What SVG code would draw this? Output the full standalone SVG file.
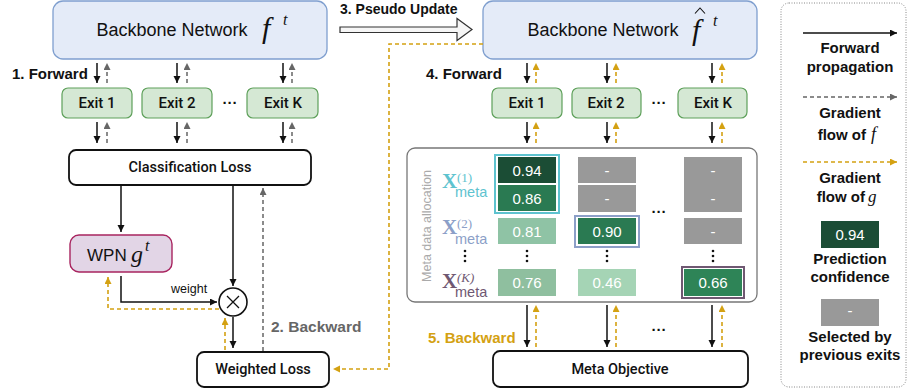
<svg xmlns="http://www.w3.org/2000/svg" width="908" height="392" viewBox="0 0 908 392">
<defs>
<marker id="ab" markerUnits="userSpaceOnUse" markerWidth="8" markerHeight="8" refX="7" refY="3.5" orient="auto"><path d="M0,0 L7,3.5 L0,7 z" fill="#111"/></marker>
<marker id="ag" markerUnits="userSpaceOnUse" markerWidth="8" markerHeight="8" refX="7" refY="3.5" orient="auto"><path d="M0,0 L7,3.5 L0,7 z" fill="#666"/></marker>
<marker id="ay" markerUnits="userSpaceOnUse" markerWidth="8" markerHeight="8" refX="7" refY="3.5" orient="auto"><path d="M0,0 L7,3.5 L0,7 z" fill="#d4a112"/></marker>
</defs>
<style>
text{font-family:"Liberation Sans",Arial,Helvetica,sans-serif;}
.bb{fill:#e4ebf8;stroke:#7f9fcf;stroke-width:1.3;}
.ex{fill:#d5e8d4;stroke:#5ea05a;stroke-width:1.2;}
.wb{fill:#fff;stroke:#111;stroke-width:1.8;}
.t18{font-size:18px;fill:#111;text-anchor:middle;}
.t14{font-family:Roboto,"Liberation Sans",Arial,sans-serif;font-weight:500;fill:#111;text-anchor:middle;}
.b15{font-size:15px;font-weight:bold;}
.lg{font-size:15px;font-weight:bold;fill:#111;}
.cv{font-size:15px;fill:#fff;text-anchor:middle;}
.bl{stroke:#111;stroke-width:1.5;fill:none;}
.gd{stroke:#666;stroke-width:1.5;fill:none;stroke-dasharray:4,3;}
.yd{stroke:#d4a112;stroke-width:1.6;fill:none;stroke-dasharray:4,3;}
.mi{font-family:"Liberation Serif","Times New Roman",serif;font-style:italic;fill:#111;}
.xs{font-family:"Liberation Serif","Times New Roman",serif;}
.dots{font-size:15px;font-weight:bold;fill:#111;text-anchor:middle;}
</style>

<!-- Left side -->
<g id="backbone1">
<rect class="bb" x="53" y="1" width="274" height="58" rx="10"/>
<text class="t18" x="172" y="36">Backbone Network</text>
<text class="mi" x="262" y="38" font-size="30">f</text>
<text class="mi" x="283" y="25" font-size="16">t</text>
</g>
<g id="exit1a"><rect class="ex" x="62" y="88" width="70" height="30" rx="6"/><text class="t14" x="97" y="108" font-size="15">Exit 1</text></g>
<g id="exit2a"><rect class="ex" x="142" y="88" width="70" height="30" rx="6"/><text class="t14" x="177" y="108" font-size="15">Exit 2</text></g>
<g id="exitKa"><rect class="ex" x="247" y="88" width="71" height="30" rx="6"/><text class="t14" x="283" y="108" font-size="15">Exit K</text></g>
<text class="dots" x="230" y="108">···</text>
<g id="closs"><rect class="wb" x="69" y="150" width="242" height="35" rx="7"/><text class="t14" x="190" y="172" font-size="14.5">Classification Loss</text></g>
<g id="wpn"><rect x="70" y="235" width="102" height="37" rx="9" fill="#e2d5e6" stroke="#a8245f" stroke-width="1.4"/>
<text x="87" y="261" font-size="17" fill="#111">WPN</text>
<text class="mi" x="131" y="262" font-size="24">g</text>
<text class="mi" x="145" y="251" font-size="16">t</text></g>
<g id="mult"><circle cx="233" cy="302" r="14" fill="#fff" stroke="#111" stroke-width="1.6"/>
<path d="M227,296 L239,308 M239,296 L227,308" stroke="#111" stroke-width="1.3"/></g>
<g id="wloss"><rect class="wb" x="197" y="352" width="132" height="35" rx="7"/><text class="t14" x="263" y="374" font-size="14.5">Weighted Loss</text></g>

<text class="b15" x="12" y="79" style="fill:#111">1. Forward</text>
<text class="b15" x="271" y="332" style="fill:#666;font-size:15.5px">2. Backward</text>
<text x="171" y="293" font-size="12.5" fill="#111">weight</text>
<text class="b15" x="340" y="14" style="fill:#111;font-size:14px">3. Pseudo Update</text>

<!-- Right side -->
<g id="backbone2">
<rect class="bb" x="483" y="1" width="274" height="58" rx="10"/>
<text class="t18" x="603" y="36">Backbone Network</text>
<text class="mi" x="692" y="40" font-size="30">f</text>
<path d="M695,13.5 L700,8 L705,13.5" fill="none" stroke="#111" stroke-width="1.1"/>
<text class="mi" x="713" y="26" font-size="16">t</text>
</g>
<g id="exit1b"><rect class="ex" x="492" y="88" width="70" height="30" rx="6"/><text class="t14" x="527" y="108" font-size="15">Exit 1</text></g>
<g id="exit2b"><rect class="ex" x="572" y="88" width="69" height="30" rx="6"/><text class="t14" x="606" y="108" font-size="15">Exit 2</text></g>
<g id="exitKb"><rect class="ex" x="678" y="88" width="69" height="30" rx="6"/><text class="t14" x="713" y="108" font-size="15">Exit K</text></g>
<text class="dots" x="659" y="108">···</text>
<text class="b15" x="426" y="79" style="fill:#111">4. Forward</text>

<g id="metabox">
<rect x="407" y="148" width="350" height="154" rx="8" fill="#fff" stroke="#777" stroke-width="1.3"/>
<text x="431" y="226" font-size="12.5" fill="#aaa" text-anchor="middle" transform="rotate(-90 431 226)">Meta data allocation</text>
<g fill="#5ec3cf"><text class="xs" x="442" y="188" font-size="21" font-weight="bold">X</text><text class="xs" x="457" y="182" font-size="13">(1)</text><text x="455" y="197" font-size="14.5">meta</text></g>
<g fill="#8c9fc8"><text class="xs" x="442" y="234" font-size="21" font-weight="bold">X</text><text class="xs" x="457" y="228" font-size="13">(2)</text><text x="455" y="244" font-size="14.5">meta</text></g>
<g fill="#6f5872"><text class="xs" x="442" y="288" font-size="21" font-weight="bold">X</text><text class="xs" x="457" y="282" font-size="13" font-style="italic">(K)</text><text x="455" y="297" font-size="14.5">meta</text></g>
<rect x="495" y="155" width="64" height="58" fill="#fff" stroke="#5ec3cf" stroke-width="2"/>
<rect x="575" y="216" width="64" height="31" fill="#fff" stroke="#8c9fc8" stroke-width="2"/>
<rect x="682" y="267" width="62" height="31" fill="#fff" stroke="#6f5872" stroke-width="2"/>
<rect x="498" y="157" width="58" height="26" fill="#1b4d35"/><text class="cv" x="527" y="176">0.94</text>
<rect x="498" y="185" width="58" height="26" fill="#2a7a52"/><text class="cv" x="527" y="204">0.86</text>
<rect x="498" y="218" width="58" height="26" fill="#8fc3a5"/><text class="cv" x="527" y="237">0.81</text>
<rect x="498" y="269" width="58" height="27" fill="#8fbf9f"/><text class="cv" x="527" y="288">0.76</text>
<rect x="578" y="157" width="58" height="26" fill="#999"/><text class="cv" x="607" y="176">-</text>
<rect x="578" y="185" width="58" height="27" fill="#999"/><text class="cv" x="607" y="204">-</text>
<rect x="578" y="218" width="58" height="26" fill="#2a7a52"/><text class="cv" x="607" y="237">0.90</text>
<rect x="578" y="269" width="58" height="27" fill="#a5d4b5"/><text class="cv" x="607" y="288">0.46</text>
<rect x="684" y="157" width="58" height="55" fill="#999"/><text class="cv" x="713" y="176">-</text><text class="cv" x="713" y="204">-</text>
<rect x="684" y="218" width="58" height="26" fill="#999"/><text class="cv" x="713" y="237">-</text>
<rect x="684" y="269" width="58" height="27" fill="#2e8457"/><text class="cv" x="713" y="288">0.66</text>
<g fill="#111"><circle cx="465" cy="251" r="1.3"/><circle cx="465" cy="256" r="1.3"/><circle cx="465" cy="261" r="1.3"/>
<circle cx="527" cy="251" r="1.3"/><circle cx="527" cy="256" r="1.3"/><circle cx="527" cy="261" r="1.3"/>
<circle cx="607" cy="251" r="1.3"/><circle cx="607" cy="256" r="1.3"/><circle cx="607" cy="261" r="1.3"/>
<circle cx="713" cy="251" r="1.3"/><circle cx="713" cy="256" r="1.3"/><circle cx="713" cy="261" r="1.3"/></g>
<text class="dots" x="659" y="217">···</text>
</g>
<text class="dots" x="659" y="335">···</text>
<text class="b15" x="428" y="343" style="fill:#d4a112">5. Backward</text>
<g id="metaobj"><rect class="wb" x="493" y="351" width="255" height="36" rx="7"/><text class="t14" x="620" y="374" font-size="14.5">Meta Objective</text></g>

<!-- Legend -->
<g id="legend">
<rect x="781" y="3" width="125" height="384" rx="8" fill="none" stroke="#888" stroke-width="1" stroke-dasharray="1,1.5"/>
<line class="bl" x1="803" y1="33" x2="897" y2="33" marker-end="url(#ab)"/>
<text class="lg" x="850" y="53" text-anchor="middle">Forward</text><text class="lg" x="850" y="72" text-anchor="middle">propagation</text>
<line class="gd" x1="803" y1="97" x2="897" y2="97" stroke-width="2" marker-end="url(#ag)"/>
<text class="lg" x="850" y="118" text-anchor="middle">Gradient</text>
<text class="lg" x="866" y="140" text-anchor="end">flow of</text><text class="mi" x="871" y="140" font-size="18">f</text>
<line class="yd" x1="803" y1="162" x2="897" y2="162" stroke-width="2" marker-end="url(#ay)"/>
<text class="lg" x="850" y="183" text-anchor="middle">Gradient</text>
<text class="lg" x="865" y="202" text-anchor="end">flow of</text><text class="mi" x="868" y="202" font-size="17">g</text>
<rect x="821" y="221" width="58" height="27" fill="#1b4d35"/><text class="cv" x="850" y="240">0.94</text>
<text class="lg" x="850" y="264" text-anchor="middle">Prediction</text><text class="lg" x="850" y="282" text-anchor="middle">confidence</text>
<rect x="821" y="299" width="58" height="27" fill="#999"/><text class="cv" x="850" y="316">-</text>
<text class="lg" x="850" y="342" text-anchor="middle">Selected by</text><text class="lg" x="850" y="360" text-anchor="middle">previous exits</text>
</g>

<!-- Connectors -->
<g id="connectors">
<line class="bl" x1="97" y1="63" x2="97" y2="83" marker-end="url(#ab)"/>
<line class="gd" x1="107" y1="83" x2="107" y2="63" marker-end="url(#ag)"/>
<line class="bl" x1="177" y1="63" x2="177" y2="83" marker-end="url(#ab)"/>
<line class="gd" x1="187" y1="83" x2="187" y2="63" marker-end="url(#ag)"/>
<line class="bl" x1="283" y1="63" x2="283" y2="83" marker-end="url(#ab)"/>
<line class="gd" x1="292" y1="83" x2="292" y2="63" marker-end="url(#ag)"/>
<line class="bl" x1="97" y1="122" x2="97" y2="143" marker-end="url(#ab)"/>
<line class="gd" x1="107" y1="143" x2="107" y2="122" marker-end="url(#ag)"/>
<line class="bl" x1="177" y1="122" x2="177" y2="143" marker-end="url(#ab)"/>
<line class="gd" x1="187" y1="143" x2="187" y2="122" marker-end="url(#ag)"/>
<line class="bl" x1="283" y1="122" x2="283" y2="143" marker-end="url(#ab)"/>
<line class="gd" x1="292" y1="143" x2="292" y2="122" marker-end="url(#ag)"/>
<line class="bl" x1="121" y1="185" x2="121" y2="232" marker-end="url(#ab)"/>
<line class="bl" x1="233" y1="185" x2="233" y2="286" marker-end="url(#ab)"/>
<line class="gd" x1="263" y1="351" x2="263" y2="188" marker-end="url(#ag)"/>
<path class="bl" d="M121,276 V302 H217" marker-end="url(#ab)"/>
<path class="yd" d="M219,309 H108 V277" marker-end="url(#ay)"/>
<line class="yd" x1="225" y1="350" x2="225" y2="318" marker-end="url(#ay)"/>
<line class="bl" x1="233" y1="317" x2="233" y2="348" marker-end="url(#ab)"/>
<path d="M340,27 H457 V18.5 L472,29.5 L457,40.5 V32.5 H340 Z" fill="#f6f6f6" stroke="#333" stroke-width="1.2"/>
<path class="yd" d="M483,44 H389 V369 H333" marker-end="url(#ay)"/>
<line class="bl" x1="527" y1="63" x2="527" y2="83" marker-end="url(#ab)"/>
<line class="yd" x1="536" y1="83" x2="536" y2="63" marker-end="url(#ay)"/>
<line class="bl" x1="607" y1="63" x2="607" y2="83" marker-end="url(#ab)"/>
<line class="yd" x1="616" y1="83" x2="616" y2="63" marker-end="url(#ay)"/>
<line class="bl" x1="712" y1="63" x2="712" y2="83" marker-end="url(#ab)"/>
<line class="yd" x1="722" y1="83" x2="722" y2="63" marker-end="url(#ay)"/>
<line class="bl" x1="527" y1="122" x2="527" y2="143" marker-end="url(#ab)"/>
<line class="yd" x1="536" y1="143" x2="536" y2="122" marker-end="url(#ay)"/>
<line class="bl" x1="607" y1="122" x2="607" y2="143" marker-end="url(#ab)"/>
<line class="yd" x1="616" y1="143" x2="616" y2="122" marker-end="url(#ay)"/>
<line class="bl" x1="712" y1="122" x2="712" y2="143" marker-end="url(#ab)"/>
<line class="yd" x1="722" y1="143" x2="722" y2="122" marker-end="url(#ay)"/>
<line class="bl" x1="527" y1="305" x2="527" y2="347" marker-end="url(#ab)"/>
<line class="yd" x1="536" y1="347" x2="536" y2="305" marker-end="url(#ay)"/>
<line class="bl" x1="607" y1="305" x2="607" y2="347" marker-end="url(#ab)"/>
<line class="yd" x1="616" y1="347" x2="616" y2="305" marker-end="url(#ay)"/>
<line class="bl" x1="712" y1="305" x2="712" y2="347" marker-end="url(#ab)"/>
<line class="yd" x1="722" y1="347" x2="722" y2="305" marker-end="url(#ay)"/>
</g>
</svg>
